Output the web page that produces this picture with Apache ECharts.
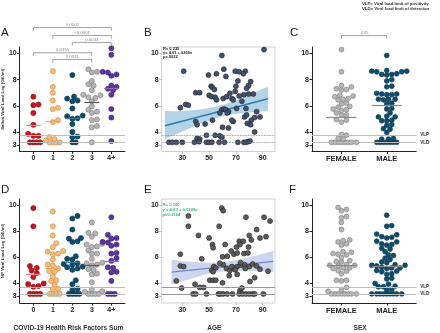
<!DOCTYPE html>
<html>
<head>
<meta charset="utf-8">
<script src="https://cdn.jsdelivr.net/npm/echarts@6.0.0/dist/echarts.min.js"></script>
<style>
  html, body { margin: 0; padding: 0; background: #fff; }
  #chart { width: 440px; height: 333px; }
</style>
</head>
<body>
<div id="chart"></div>
<script>
// categories, ticks, limits
var riskCats = ['0', '1', '2', '3', '4+'];
var sexCats = ['FEMALE', 'MALE'];
var loadTicks = [3, 4, 6, 8, 10];
var ageTicks = [30, 50, 70, 90];
var VLP = 3.75;   // viral load limit of positivity
var VLD = 3.2;    // viral load limit of detection

// saliva viral load by risk factors sum
var salivaR0 = [6.7, 6.1, 6.05, 5.45, 4.55, 3.85, 3.7, 3.7, 3.2, 3.2, 3.2, 3.2];
var salivaR1 = [8.65, 7.45, 7.0, 6.4, 5.85, 5.75, 4.9, 4.75, 3.6, 3.45, 3.35, 3.2, 3.2, 3.2, 3.2];
var salivaR2 = [8.35, 6.7, 6.55, 6.4, 6.35, 5.8, 5.25, 5.2, 5.05, 5.0, 4.6, 4.0, 3.65, 3.6, 3.2, 3.2];
var salivaR3 = [8.8, 8.6, 8.55, 7.9, 7.65, 7.55, 7.2, 6.85, 6.8, 6.65, 6.6, 6.35, 5.95, 5.7, 5.55, 5.45, 4.95, 4.9, 4.45, 4.35, 3.2];
var salivaR4 = [10.4, 9.9, 8.6, 8.55, 8.4, 8.3, 7.55, 7.45, 7.3, 7.2, 6.85, 5.75, 5.1, 3.3];
var salivaRMid = [4.5, 4.8, 5.05, 6.3, 7.35];

// NP viral load by risk factors sum
var npR0 = [9.8, 8.4, 5.35, 5.2, 5.0, 4.8, 4.5, 4.0, 3.95, 3.8, 3.75, 3.2, 3.2, 3.2, 3.2];
var npR1 = [9.55, 8.4, 7.7, 7.1, 6.8, 6.5, 6.45, 6.3, 6.25, 5.85, 5.45, 5.4, 5.15, 4.95, 4.9, 4.55, 4.25, 4.2, 3.9, 3.6, 3.55, 3.2, 3.2, 3.2, 3.2];
var npR2 = [9.2, 9.0, 8.15, 7.5, 7.45, 7.25, 7.2, 6.1, 5.9, 5.85, 5.55, 5.5, 5.45, 5.3, 5.25, 5.15, 5.05, 4.25, 3.95, 3.6, 3.5, 3.2, 3.2, 3.2, 3.2];
var npR3 = [8.7, 7.9, 7.85, 7.6, 7.05, 7.0, 6.85, 6.8, 6.55, 6.3, 6.3, 5.9, 5.6, 5.55, 5.45, 5.4, 5.1, 5.05, 4.75, 4.7, 4.1, 3.55, 3.4, 3.35, 3.2, 3.2, 3.2, 3.2];
var npR4 = [9.1, 7.75, 7.5, 7.45, 7.2, 7.15, 7.0, 6.9, 6.35, 6.3, 5.95, 5.75, 5.25, 5.2, 4.9, 4.85, 4.2, 3.2, 3.2, 3.2];
var npRMid = [4.75, 5.15, 5.65, 5.4, 5.7];

// viral load by sex
var salivaFemale = [10.3, 8.6, 7.55, 7.45, 7.3, 7.25, 7.2, 6.8, 6.75, 6.7, 6.55, 6.5, 6.45, 6.2, 6.15, 5.95, 5.9, 5.75, 5.7, 5.65, 5.45, 5.3, 5.3, 4.95, 4.9, 4.75, 3.8, 3.75, 3.5, 3.45, 3.2, 3.2, 3.2, 3.2, 3.2, 3.2, 3.2, 3.2];
var salivaMale = [9.85, 8.7, 8.65, 8.65, 8.6, 8.6, 8.45, 8.4, 8.4, 8.35, 8.0, 7.9, 7.5, 7.45, 6.95, 6.9, 6.9, 6.85, 6.85, 6.5, 6.5, 6.5, 6.45, 6.2, 6.15, 5.8, 5.75, 5.45, 5.2, 5.15, 5.15, 4.9, 4.85, 4.85, 4.55, 4.5, 4.25, 4.2, 3.95, 3.5, 3.45, 3.45, 3.2, 3.2, 3.2, 3.2, 3.2, 3.2, 3.2];
var salivaSexMid = [5.15, 6.05];
var npFemale = [9.85, 9.7, 9.6, 9.15, 9.05, 8.7, 8.15, 7.35, 7.3, 7.2, 7.05, 6.95, 6.45, 6.4, 6.3, 6.25, 6.2, 6.0, 5.75, 5.7, 5.65, 5.45, 5.4, 5.4, 5.35, 5.2, 5.2, 5.15, 5.0, 4.95, 4.75, 4.25, 4.25, 4.2, 3.7, 3.5, 3.4, 3.2, 3.2, 3.2, 3.2, 3.2, 3.2, 3.2, 3.2];
var npMale = [9.25, 8.45, 8.4, 7.8, 7.75, 7.6, 7.55, 7.5, 7.25, 7.2, 7.05, 7.0, 6.95, 6.7, 6.65, 6.45, 6.2, 6.15, 5.95, 5.85, 5.65, 5.6, 5.45, 5.4, 5.4, 5.35, 5.25, 5.2, 5.2, 5.15, 5.0, 4.95, 4.9, 4.75, 4.7, 4.4, 4.35, 4.0, 3.95, 3.8, 3.75, 3.75, 3.55, 3.5, 3.2, 3.2, 3.2, 3.2, 3.2, 3.2, 3.2, 3.2, 3.2];
var npSexMid = [5.4, 5.35];

// viral load by age [age, load]
var salivaAge = [[91, 10.3], [59.5, 9.85], [31, 8.65], [49.5, 8.35], [55.5, 8.45], [61, 8.8], [62.5, 8.25], [69.5, 8.65], [72.5, 8.6], [77, 8.65],
  [75.5, 8.45], [71.5, 7.9], [81, 7.85], [79.5, 7.55], [78, 7.35], [70, 7.5], [51.5, 7.5], [52.5, 7.4], [54, 7.25], [40, 7.0],
  [43, 7.0], [69.5, 7.1], [72.5, 6.75], [76, 6.85], [79.5, 6.9], [83, 6.9], [50, 6.8], [52, 6.7], [54.5, 6.65], [55.5, 6.45],
  [60.5, 6.55], [63, 6.7], [67, 6.55], [68, 6.45], [74.5, 6.35], [65.5, 6.95], [28.5, 5.85], [32.5, 6.1], [34.5, 6.05], [59.5, 5.7],
  [61, 5.75], [62.5, 5.7], [64.5, 5.55], [70.5, 5.8], [58, 5.45], [63.5, 5.45], [77.5, 5.8], [76.5, 5.15], [78, 5.3], [68, 4.8],
  [67, 4.9], [81.5, 4.9], [84, 5.1], [85.5, 5.55], [88, 5.15], [40, 4.8], [41, 4.55], [47, 4.6], [52.5, 4.9], [60, 4.35],
  [64.5, 4.3], [78.5, 4.65], [81, 4.55], [84, 4.0], [48, 3.75], [54.5, 3.75], [58, 3.7], [59.5, 3.6], [41, 3.5], [43, 3.45],
  [20, 3.2], [22.5, 3.2], [25.5, 3.2], [30, 3.2], [39, 3.2], [42.5, 3.25], [48, 3.2], [50, 3.2], [52, 3.2], [57.5, 3.2],
  [61.5, 3.2], [71.5, 3.2], [76, 3.2], [77.5, 3.2], [79, 3.25], [80.5, 3.3]];
var npAge = [[59.5, 9.8], [60.5, 9.6], [34.5, 9.2], [77.5, 9.1], [91, 9.1], [95.5, 8.8], [34.5, 8.4], [57.5, 8.4], [85.5, 8.15], [42, 7.7],
  [80, 7.7], [50, 7.5], [92.5, 7.6], [52.5, 7.0], [53, 6.75], [72.5, 7.25], [75.5, 7.25], [73, 7.0], [70.5, 6.8], [79.5, 6.8],
  [81.5, 7.35], [88, 7.5], [62, 7.0], [28.5, 6.25], [66.5, 6.5], [68.5, 6.25], [71, 6.35], [60, 6.05], [63.5, 6.1], [76, 6.3],
  [79, 6.35], [44.5, 5.9], [28.5, 5.35], [31, 5.3], [53.5, 5.3], [55, 5.2], [52, 5.0], [53, 4.9], [60.5, 5.45], [63, 5.15],
  [65.5, 5.0], [68, 5.15], [71, 5.3], [74, 5.4], [76.5, 5.45], [80, 5.3], [82.5, 5.5], [85.5, 5.35], [73.5, 5.6], [88, 5.1],
  [94, 4.95], [58, 5.55], [67, 5.3], [69.5, 5.05], [77, 5.15], [25.5, 4.2], [29.5, 3.65], [39.5, 3.95], [50.5, 4.25], [53, 4.25],
  [55, 4.25], [60, 4.05], [65, 4.6], [71, 4.7], [80.5, 4.15], [84, 4.45], [73, 3.45], [43, 3.7], [46, 3.7], [74.5, 3.65],
  [38, 3.2], [40, 3.2], [48, 3.2], [57, 3.2], [58.5, 3.2], [60.5, 3.2], [63.5, 3.2], [67.5, 3.2], [72.5, 3.2], [75, 3.2],
  [77.5, 3.2], [80, 3.2], [82.5, 3.2], [84, 3.2], [90.5, 3.2]];

// regression lines and 95% bands
var regSaliva = [[17, 4.47], [94, 6.54]];
var ciSalivaAge = [17, 25, 35, 45, 55, 62, 70, 80, 88, 94];
var ciSalivaLo = [3.45, 3.8, 4.27, 4.7, 5.05, 5.24, 5.37, 5.48, 5.56, 5.61];
var ciSalivaHi = [5.6, 5.58, 5.63, 5.74, 5.93, 6.12, 6.41, 6.84, 7.2, 7.45];
var regNp = [[22, 4.87], [98, 5.7]];
var ciNpAge = [22, 30, 40, 50, 60, 70, 80, 90, 98];
var ciNpLo = [3.92, 4.18, 4.49, 4.76, 4.92, 4.99, 4.98, 4.93, 4.88];
var ciNpHi = [5.82, 5.74, 5.65, 5.6, 5.64, 5.79, 6.02, 6.29, 6.52];

// p-value brackets
var bracketPairs = [[0, 4], [1, 4], [2, 4], [0, 3], [1, 3]];
var bracketText = ['0.0002', '<0.0001', '0.0033', '0.0355', '0.0331'];
var bracketLevel = [11.99, 11.38, 10.84, 10.06, 9.54];
var sexBracketText = ['.035'];
var sexBracketLevel = [11.37];

// =====================================================================================================================
var fontFamily = 'Liberation Sans, Arial, sans-serif';
var riskColors = ['#c6161f', '#f6bd7a', '#0d4d6d', '#b5b5b5', '#5b36a0'];
var riskBorders = ['#8a0c10', '#c98a45', '#08324a', '#7a7a7a', '#3a2170'];
var riskMedColors = ['#e58585', '#eea463', '#3f7592', '#555555', '#8a6cc4'];
var sexColors = ['#b5b5b5', '#0d4d6d'];
var sexBorders = ['#7a7a7a', '#08324a'];

var loadRange = [2.5, 10.5];
var riskRange = [-0.7, 4.7];
var sexRange = [-0.65, 1.65];
var ageRange = [14.6, 99.2];

var grids = [
  {left: 19, top: 47, width: 106, height: 104.5},
  {left: 161.7, top: 47, width: 113.3, height: 104.5, show: true, borderColor: '#d0d0d0', borderWidth: 1},
  {left: 312, top: 47, width: 104.2, height: 104.5},
  {left: 19, top: 199, width: 106, height: 104.8},
  {left: 161.7, top: 199, width: 113.3, height: 104.8, show: true, borderColor: '#d0d0d0', borderWidth: 1},
  {left: 312, top: 199, width: 104.2, height: 104.8}
];

// simple beeswarm: spread close values sideways (pixel space)
function swarm(vals, center, pxX, pxY, d) {
  var placed = [];
  var out = [];
  vals.slice().sort(function (a, b) { return a - b; }).forEach(function (v) {
    var py = v * pxY;
    var minD = v <= VLD + 0.01 ? d * 0.68 : d * 0.92;
    var off = 0;
    for (var k = 0; k < 80; k++) {
      var c = k === 0 ? 0 : (k % 2 ? 1 : -1) * Math.ceil(k / 2) * d * 0.34;
      var ok = placed.every(function (p) {
        return Math.hypot(p[0] - c, p[1] - py) >= Math.min(minD, p[2]);
      });
      if (ok) { off = c; break; }
    }
    placed.push([off, py, minD]);
    out.push([center + off / pxX, v]);
  });
  return out;
}

function loadAxis(gi, name, boxed) {
  return {
    type: 'value', gridIndex: gi, min: loadRange[0], max: loadRange[1],
    splitLine: {show: false},
    axisLine: {show: !boxed, onZero: false, lineStyle: {color: '#222', width: 1}},
    axisTick: {show: true, length: 2.5, customValues: loadTicks, lineStyle: {color: boxed ? '#bbb' : '#222'}},
    axisLabel: {customValues: loadTicks, fontSize: 7, fontWeight: 'bold', color: '#222', margin: 3, fontFamily: fontFamily},
    name: name, nameLocation: 'middle', nameGap: 14,
    nameTextStyle: {fontSize: 4.4, fontWeight: 'bold', color: '#333', fontFamily: fontFamily}
  };
}

function catAxis(gi, cats, range, name, fs) {
  var ticks = cats.map(function (c, i) { return i; });
  return {
    type: 'value', gridIndex: gi, min: range[0], max: range[1],
    splitLine: {show: false},
    axisLine: {show: true, onZero: false, lineStyle: {color: '#222', width: 1}},
    axisTick: {show: true, length: 2.5, customValues: ticks, lineStyle: {color: '#222'}},
    axisLabel: {
      customValues: ticks, fontSize: fs, fontWeight: 'bold', color: '#222', margin: 3.5, fontFamily: fontFamily,
      formatter: function (v) { return cats[Math.round(v)]; }
    },
    name: name, nameLocation: 'middle', nameGap: 22,
    nameTextStyle: {fontSize: 6.6, fontWeight: 'bold', color: '#333', fontFamily: fontFamily, padding: [0, 8, 0, 0]}
  };
}

function ageAxis(gi, name) {
  return {
    type: 'value', gridIndex: gi, min: ageRange[0], max: ageRange[1],
    splitLine: {show: false},
    axisLine: {show: false, onZero: false},
    axisTick: {show: true, length: 2, customValues: ageTicks, lineStyle: {color: '#bbb'}},
    axisLabel: {customValues: ageTicks, fontSize: 7, fontWeight: 'bold', color: '#222', margin: 3.3, fontFamily: fontFamily},
    name: name, nameLocation: 'middle', nameGap: 22,
    nameTextStyle: {fontSize: 6.6, fontWeight: 'bold', color: '#333', fontFamily: fontFamily, padding: [0, 8, 0, 0]}
  };
}

function dotSeries(gi, groups, colors, borders, range, size) {
  var g = grids[gi];
  var pxX = g.width / (range[1] - range[0]);
  var pxY = g.height / (loadRange[1] - loadRange[0]);
  return groups.map(function (vals, i) {
    return {
      type: 'scatter', xAxisIndex: gi, yAxisIndex: gi, symbolSize: size, z: 3, silent: true,
      itemStyle: {color: colors[i], borderColor: borders[i], borderWidth: 0.6, opacity: 1},
      data: swarm(vals, i, pxX, pxY, size)
    };
  });
}

function refLines(gi, lineStyle, showLabel) {
  return {
    type: 'line', xAxisIndex: gi, yAxisIndex: gi, data: [], z: 1, silent: true,
    markLine: {
      silent: true, symbol: 'none', animation: false,
      lineStyle: lineStyle,
      label: {show: showLabel, position: 'end', distance: 4, fontSize: 4.6, fontWeight: 'bold', color: '#333', formatter: '{b}', fontFamily: fontFamily},
      data: [{yAxis: VLP, name: 'VLP'}, {yAxis: VLD, name: 'VLD'}]
    }
  };
}

function medianLines(gi, mids, colors, half) {
  return {
    type: 'line', xAxisIndex: gi, yAxisIndex: gi, data: [], z: 5, silent: true,
    markLine: {
      silent: true, symbol: 'none', animation: false, label: {show: false},
      data: mids.map(function (m, i) {
        return [{coord: [i - half, m], lineStyle: {color: colors[i], width: 1.2, type: 'solid'}}, {coord: [i + half, m]}];
      })
    }
  };
}

function bracketSeries(gi, pairs, texts, levels) {
  var out = pairs.map(function (p, i) {
    var lv = levels[i];
    return {
      type: 'line', xAxisIndex: gi, yAxisIndex: gi, clip: false, symbol: 'none', silent: true, z: 2,
      lineStyle: {color: '#8c8c8c', width: 0.8},
      data: [[p[0], lv - 0.23], [p[0], lv], [p[1], lv], [p[1], lv - 0.23]]
    };
  });
  out.push({
    type: 'scatter', xAxisIndex: gi, yAxisIndex: gi, clip: false, symbolSize: 1, silent: true, z: 2,
    itemStyle: {color: 'rgba(0,0,0,0)'},
    label: {show: true, position: 'top', distance: 0.3, formatter: '{b}', fontSize: 4.3, color: '#666', fontFamily: fontFamily},
    data: pairs.map(function (p, i) { return {value: [(p[0] + p[1]) / 2, levels[i]], name: texts[i]}; })
  });
  return out;
}

// confidence band as one polygon: lower edge forward, upper edge back
function bandSeries(gi, ages, lo, hi, fill) {
  return {
    type: 'custom', xAxisIndex: gi, yAxisIndex: gi, silent: true, z: 1,
    data: ages.map(function (a, i) { return [a, lo[i], hi[i]]; }),
    encode: {x: 0, y: [1, 2]},
    renderItem: function (params, api) {
      if (params.dataIndex !== 0) {
        return;
      }
      var pts = [];
      ages.forEach(function (a, i) { pts.push(api.coord([a, lo[i]])); });
      for (var i = ages.length - 1; i >= 0; i--) {
        pts.push(api.coord([ages[i], hi[i]]));
      }
      return {type: 'polygon', shape: {points: pts}, style: {fill: fill}};
    }
  };
}

function regSeries(gi, pts, color, width) {
  return {
    type: 'line', xAxisIndex: gi, yAxisIndex: gi, symbol: 'none', silent: true, z: 2,
    lineStyle: {color: color, width: width}, data: pts
  };
}

function ageDots(gi, pts, color, border) {
  return {
    type: 'scatter', xAxisIndex: gi, yAxisIndex: gi, symbolSize: 5, silent: true, z: 3,
    itemStyle: {color: color, borderColor: border, borderWidth: 0.6, opacity: 1},
    data: pts
  };
}

var solidRef = {color: '#bdbdbd', width: 1, type: 'solid'};

var series = [].concat(
  // A
  [refLines(0, solidRef, false)],
  dotSeries(0, [salivaR0, salivaR1, salivaR2, salivaR3, salivaR4], riskColors, riskBorders, riskRange, 5.1),
  [medianLines(0, salivaRMid, riskMedColors, 0.38)],
  bracketSeries(0, bracketPairs, bracketText, bracketLevel),
  // B
  [bandSeries(1, ciSalivaAge, ciSalivaLo, ciSalivaHi, '#b3d3e6')],
  [regSeries(1, regSaliva, '#2b7bb4', 1.4)],
  [refLines(1, {color: '#777', width: 0.8, type: 'dotted'}, false)],
  [ageDots(1, salivaAge, '#44516b', '#1e2535')],
  // C
  [refLines(2, solidRef, true)],
  dotSeries(2, [salivaFemale, salivaMale], sexColors, sexBorders, sexRange, 4.9),
  [medianLines(2, salivaSexMid, ['#888', '#888'], 0.33)],
  bracketSeries(2, [[0, 1]], sexBracketText, sexBracketLevel),
  // D
  [refLines(3, solidRef, false)],
  dotSeries(3, [npR0, npR1, npR2, npR3, npR4], riskColors, riskBorders, riskRange, 5.1),
  [medianLines(3, npRMid, riskMedColors, 0.38)],
  // E
  [bandSeries(4, ciNpAge, ciNpLo, ciNpHi, '#cdd6ee')],
  [regSeries(4, regNp, '#6f87c6', 1.2)],
  [refLines(4, {color: '#9a9a9a', width: 1, type: 'solid'}, false)],
  [ageDots(4, npAge, '#5c5c5c', '#222')],
  // F
  [refLines(5, solidRef, true)],
  dotSeries(5, [npFemale, npMale], sexColors, sexBorders, sexRange, 4.9),
  [medianLines(5, npSexMid, ['#888', '#888'], 0.33)]
);

function panelTitle(txt, left, top) {
  return {text: txt, left: left, top: top, padding: 0,
    textStyle: {fontSize: 11.5, fontWeight: 'normal', color: '#222', fontFamily: fontFamily}};
}

var chart = echarts.init(document.getElementById('chart'), null, {renderer: 'canvas'});
var option = {
  animation: false,
  textStyle: {fontFamily: fontFamily},
  title: [
    panelTitle('A', 1, 27), panelTitle('B', 144, 27), panelTitle('C', 290, 27),
    panelTitle('D', 1, 184), panelTitle('E', 144, 184), panelTitle('F', 289, 184),
    {text: 'VLP= Viral load limit of positivity\nVLD= Viral load limit of detection', left: 362, top: 1.5, padding: 0,
      textStyle: {fontSize: 4.3, lineHeight: 5, fontWeight: 'bold', color: '#333', fontFamily: fontFamily}},
    {text: 'R= 0.235\ny= 4.01 +.0269x\np=.0022', left: 163, top: 46.3, padding: 0,
      textStyle: {fontSize: 4, lineHeight: 4.4, fontWeight: 'bold', color: '#222', fontFamily: fontFamily}},
    {text: 'R= 0.100\ny = 4.63 + 0.0109x\np=0.3164', left: 162.5, top: 201.8, padding: 0,
      textStyle: {fontSize: 4.2, lineHeight: 5.3, fontWeight: 'bold', color: '#35b574', fontFamily: fontFamily}}
  ],
  grid: grids,
  xAxis: [
    catAxis(0, riskCats, riskRange, '', 7),
    ageAxis(1, ''),
    catAxis(2, sexCats, sexRange, '', 7.5),
    catAxis(3, riskCats, riskRange, 'COVID-19 Health Risk Factors Sum', 7),
    ageAxis(4, 'AGE'),
    catAxis(5, sexCats, sexRange, 'SEX', 7.5)
  ],
  yAxis: [
    loadAxis(0, 'Saliva Viral Load Log (GE/ml)', false),
    loadAxis(1, '', true),
    loadAxis(2, '', false),
    loadAxis(3, 'NP Viral Load Log (GE/ml)', false),
    loadAxis(4, '', true),
    loadAxis(5, '', false)
  ],
  series: series
};
chart.setOption(option);
</script>
</body>
</html>
